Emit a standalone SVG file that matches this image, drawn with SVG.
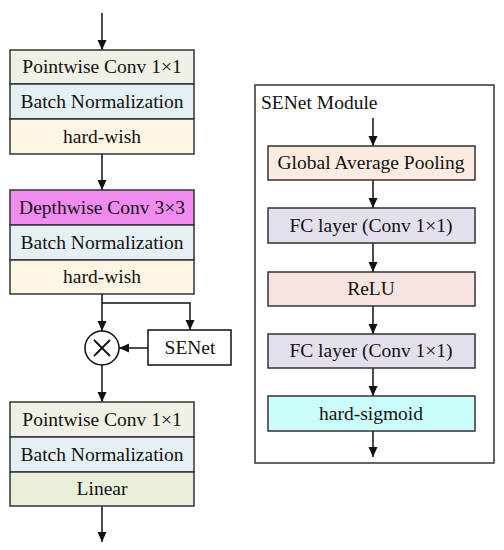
<svg xmlns="http://www.w3.org/2000/svg" width="504" height="550" viewBox="0 0 504 550">
<defs>
<marker id="ah" viewBox="0 0 10 12" refX="10" refY="6" markerWidth="10" markerHeight="12" markerUnits="userSpaceOnUse" orient="auto">
<path d="M0,1.5 L10,6 L0,10.5 Z" fill="#111"/>
</marker>
</defs>
<style>
text{font-family:"Liberation Serif","Times New Roman",serif;font-size:19.5px;fill:#111;text-anchor:middle}
.b{stroke:#333;stroke-width:1.5}
.c{stroke:#111;stroke-width:1.5;fill:none}
.pw{fill:#eff0e6}.bn{fill:#e5f0f5}.hw{fill:#fdf5e3}.dw{fill:#f08cf0}.li{fill:#e8f0da}
.gap{fill:#fcebe0}.fc{fill:#e4dfed}.re{fill:#f5e4e0}.hs{fill:#ccfdfd}
</style>
<rect width="504" height="550" fill="#fff"/>
<g id="connectors">
<line class="c" x1="102" y1="13" x2="102" y2="50" marker-end="url(#ah)"/>
<line class="c" x1="102" y1="154" x2="102" y2="190" marker-end="url(#ah)"/>
<polyline class="c" points="102,294 102,303"/>
<line class="c" x1="102" y1="303" x2="102" y2="331" marker-end="url(#ah)"/>
<polyline class="c" points="102,303 190,303 190,330" marker-end="url(#ah)"/>
<line class="c" x1="148" y1="348" x2="119" y2="348" marker-end="url(#ah)"/>
<line class="c" x1="102" y1="365" x2="102" y2="402" marker-end="url(#ah)"/>
<line class="c" x1="102" y1="506" x2="102" y2="542" marker-end="url(#ah)"/>
<line class="c" x1="373" y1="118" x2="373" y2="146" marker-end="url(#ah)"/>
<line class="c" x1="373" y1="180" x2="373" y2="208" marker-end="url(#ah)"/>
<line class="c" x1="373" y1="243" x2="373" y2="272" marker-end="url(#ah)"/>
<line class="c" x1="373" y1="306" x2="373" y2="334" marker-end="url(#ah)"/>
<line class="c" x1="373" y1="368" x2="373" y2="396" marker-end="url(#ah)"/>
<line class="c" x1="373" y1="431" x2="373" y2="457" marker-end="url(#ah)"/>
</g>
<g id="block1">
<rect class="b pw" x="10" y="50" width="184" height="34"/>
<rect class="b bn" x="10" y="84" width="184" height="35"/>
<rect class="b hw" x="10" y="119" width="184" height="35"/>
<text x="102" y="73">Pointwise Conv 1×1</text>
<text x="102" y="108">Batch Normalization</text>
<text x="102" y="143">hard-wish</text>
</g>
<g id="block2">
<rect class="b dw" x="10" y="190" width="184" height="35"/>
<rect class="b bn" x="10" y="225" width="184" height="35"/>
<rect class="b hw" x="10" y="260" width="184" height="34"/>
<text x="102" y="214">Depthwise Conv 3×3</text>
<text x="102" y="249">Batch Normalization</text>
<text x="102" y="283">hard-wish</text>
</g>
<g id="multiply">
<circle cx="102" cy="348" r="17" fill="#fff" stroke="#111" stroke-width="1.5"/>
<path d="M94,340 L110,356 M110,340 L94,356" stroke="#111" stroke-width="1.8"/>
</g>
<g id="senet">
<rect x="148" y="330" width="83" height="35" fill="#fff" stroke="#111" stroke-width="1.5"/>
<text x="190" y="354">SENet</text>
</g>
<g id="block3">
<rect class="b pw" x="10" y="402" width="184" height="35"/>
<rect class="b bn" x="10" y="437" width="184" height="35"/>
<rect class="b li" x="10" y="472" width="184" height="34"/>
<text x="102" y="426">Pointwise Conv 1×1</text>
<text x="102" y="461">Batch Normalization</text>
<text x="102" y="495">Linear</text>
</g>
<g id="senet-module">
<rect x="255" y="85" width="239" height="378" fill="none" stroke="#333" stroke-width="1.5"/>
<text x="261" y="109" style="text-anchor:start">SENet Module</text>
</g>
<g id="gap"><rect class="b gap" x="268" y="146" width="207" height="34"/><text x="371" y="169">Global Average Pooling</text></g>
<g id="fc1"><rect class="b fc" x="268" y="208" width="207" height="35"/><text x="371" y="232">FC layer (Conv 1×1)</text></g>
<g id="relu"><rect class="b re" x="268" y="272" width="207" height="34"/><text x="371" y="295">ReLU</text></g>
<g id="fc2"><rect class="b fc" x="268" y="334" width="207" height="34"/><text x="371" y="357">FC layer (Conv 1×1)</text></g>
<g id="hsig"><rect class="b hs" x="268" y="396" width="207" height="35"/><text x="371" y="420">hard-sigmoid</text></g>
</svg>
